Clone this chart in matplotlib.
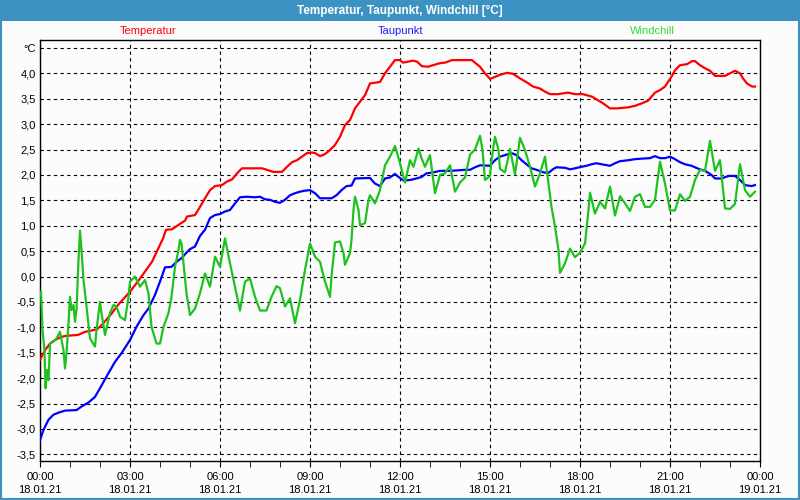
import numpy as np
import pandas as pd
import matplotlib
matplotlib.use("Agg")
import matplotlib.pyplot as plt
import matplotlib.dates as mdates
from matplotlib.patches import Rectangle

plt.rcParams['font.family'] = ['Liberation Sans', 'DejaVu Sans']

day = pd.Timestamp("2021-01-18")

# minutes after midnight, values in °C
temp_min = [0, 10, 20, 30, 40, 50, 76, 90, 114, 124, 144, 156, 180, 200, 224, 246, 252, 264,
            276, 290, 294, 310, 320, 330, 340, 350, 364, 374, 384, 394, 404, 444, 454, 466,
            484, 494, 504, 514, 524, 534, 544, 550, 560, 570, 580, 590, 600, 610, 620, 630,
            640, 650, 660, 680, 690, 700, 710, 720, 726, 736, 746, 754, 764, 776, 786, 800,
            810, 824, 864, 870, 880, 890, 900, 910, 920, 934, 946, 960, 974, 986, 1000, 1010,
            1020, 1036, 1056, 1070, 1086, 1104, 1116, 1126, 1140, 1154, 1176, 1190, 1204,
            1216, 1230, 1240, 1250, 1256, 1264, 1270, 1280, 1294, 1304, 1310, 1320, 1330,
            1340, 1350, 1370, 1380, 1390, 1400, 1406, 1414, 1424, 1430]
temp_val = [-1.64, -1.45, -1.32, -1.25, -1.20, -1.17, -1.15, -1.09, -1.04, -0.95, -0.72, -0.56,
            -0.30, -0.04, 0.29, 0.75, 0.92, 0.93, 1.01, 1.10, 1.18, 1.21, 1.37, 1.54, 1.70,
            1.78, 1.80, 1.87, 1.91, 2.03, 2.13, 2.13, 2.10, 2.06, 2.06, 2.16, 2.25, 2.29, 2.36,
            2.43, 2.44, 2.43, 2.37, 2.41, 2.49, 2.59, 2.75, 2.98, 3.08, 3.31, 3.44, 3.57, 3.80,
            3.83, 4.00, 4.13, 4.26, 4.26, 4.21, 4.23, 4.25, 4.23, 4.14, 4.13, 4.16, 4.20, 4.21,
            4.26, 4.26, 4.21, 4.13, 4.00, 3.89, 3.93, 3.97, 4.01, 3.99, 3.90, 3.82, 3.74, 3.70,
            3.64, 3.59, 3.59, 3.62, 3.59, 3.59, 3.54, 3.47, 3.41, 3.31, 3.31, 3.33, 3.36, 3.41,
            3.46, 3.62, 3.67, 3.74, 3.83, 3.95, 4.06, 4.16, 4.18, 4.24, 4.24, 4.16, 4.10, 4.05,
            3.95, 3.95, 4.00, 4.05, 4.00, 3.90, 3.80, 3.74, 3.74]

dew_min = [0, 7, 17, 27, 37, 50, 73, 83, 97, 110, 120, 133, 150, 163, 180, 193, 207, 217, 230,
           240, 250, 263, 273, 283, 293, 300, 310, 320, 330, 340, 350, 360, 370, 380, 390, 400,
           413, 430, 440, 450, 460, 470, 480, 490, 500, 510, 520, 530, 540, 550, 560, 583, 593,
           603, 613, 623, 630, 660, 670, 680, 690, 700, 710, 717, 727, 740, 753, 763, 773, 787,
           800, 820, 850, 860, 870, 880, 900, 910, 920, 930, 943, 953, 963, 973, 983, 993, 1007,
           1017, 1027, 1033, 1050, 1060, 1070, 1083, 1093, 1103, 1113, 1123, 1140, 1150, 1160,
           1177, 1190, 1203, 1220, 1230, 1240, 1250, 1260, 1270, 1280, 1290, 1303, 1317, 1330,
           1343, 1350, 1363, 1377, 1390, 1400, 1410, 1423, 1430]
dew_val = [-3.22, -3.02, -2.82, -2.72, -2.68, -2.64, -2.63, -2.56, -2.48, -2.37, -2.20, -1.97,
           -1.68, -1.51, -1.25, -0.99, -0.76, -0.63, -0.36, -0.10, 0.18, 0.19, 0.29, 0.36, 0.47,
           0.54, 0.59, 0.80, 0.92, 1.15, 1.21, 1.23, 1.28, 1.31, 1.44, 1.56, 1.57, 1.56, 1.57,
           1.52, 1.51, 1.47, 1.45, 1.51, 1.60, 1.64, 1.67, 1.69, 1.70, 1.64, 1.54, 1.54, 1.60,
           1.70, 1.78, 1.79, 1.93, 1.94, 1.83, 1.78, 1.93, 1.95, 2.02, 1.96, 1.89, 1.90, 1.93,
           1.96, 2.03, 2.05, 2.08, 2.08, 2.10, 2.10, 2.15, 2.19, 2.18, 2.29, 2.36, 2.39, 2.43,
           2.39, 2.29, 2.21, 2.13, 2.10, 2.05, 2.04, 2.12, 2.15, 2.14, 2.11, 2.13, 2.16, 2.18,
           2.21, 2.23, 2.21, 2.18, 2.23, 2.27, 2.29, 2.31, 2.32, 2.33, 2.37, 2.33, 2.33, 2.36,
           2.31, 2.25, 2.21, 2.18, 2.12, 2.08, 2.00, 1.93, 1.93, 1.98, 1.98, 1.90, 1.80, 1.78,
           1.80]

wind_min = [2, 5, 9, 11, 14, 17, 20, 27, 33, 40, 47, 50, 53, 57, 60, 63, 67, 70, 73, 77, 80, 83,
            87, 93, 100, 110, 113, 120, 123, 130, 133, 140, 147, 153, 160, 170, 177, 180, 190,
            200, 210, 217, 223, 233, 240, 247, 257, 263, 270, 277, 280, 283, 287, 293, 300, 310,
            320, 330, 340, 350, 360, 370, 380, 390, 400, 410, 420, 430, 440, 453, 463, 473, 480,
            490, 500, 510, 520, 530, 540, 550, 560, 570, 580, 583, 590, 600, 607, 610, 620, 623,
            627, 630, 637, 640, 650, 657, 660, 670, 680, 690, 700, 710, 720, 730, 740, 747, 757,
            763, 770, 780, 790, 800, 810, 820, 830, 840, 850, 860, 870, 880, 885, 890, 900, 903,
            910, 917, 920, 930, 940, 950, 960, 970, 980, 990, 1000, 1010, 1017, 1023, 1030, 1037,
            1040, 1050, 1060, 1070, 1080, 1090, 1097, 1100, 1110, 1120, 1130, 1140, 1150, 1160,
            1170, 1180, 1190, 1200, 1210, 1220, 1230, 1240, 1250, 1260, 1270, 1280, 1290, 1300,
            1310, 1320, 1330, 1340, 1350, 1360, 1370, 1380, 1390, 1400, 1410, 1420, 1430]
wind_val = [-0.30, -1.05, -1.45, -2.20, -1.84, -2.04, -1.32, -1.28, -1.22, -1.09, -1.45, -1.81,
            -1.51, -0.92, -0.40, -0.66, -0.56, -0.89, -0.66, 0.32, 0.90, 0.52, -0.07, -0.59,
            -1.22, -1.38, -1.05, -0.50, -0.72, -1.15, -1.02, -0.72, -0.56, -0.59, -0.79, -0.86,
            -0.40, -0.10, 0.00, -0.20, -0.07, -0.33, -0.99, -1.32, -1.32, -0.99, -0.72, -0.40,
            0.19, 0.52, 0.72, 0.65, 0.25, -0.33, -0.76, -0.63, -0.33, 0.06, -0.20, 0.39, 0.19,
            0.75, 0.26, -0.20, -0.67, -0.10, -0.04, -0.40, -0.67, -0.67, -0.40, -0.19, -0.23,
            -0.59, -0.43, -0.92, -0.46, 0.13, 0.65, 0.39, 0.29, -0.10, -0.40, 0.00, 0.67, 0.69,
            0.46, 0.23, 0.46, 0.72, 1.31, 1.57, 1.31, 1.01, 1.05, 1.51, 1.60, 1.44, 1.70, 2.19,
            2.36, 2.57, 2.23, 1.85, 2.29, 2.16, 2.52, 2.33, 2.16, 2.39, 1.64, 2.00, 2.03, 2.19,
            1.67, 1.85, 1.95, 2.40, 2.50, 2.77, 2.49, 1.90, 1.98, 2.29, 2.75, 2.49, 2.12, 2.05,
            2.51, 2.01, 2.73, 2.49, 2.16, 1.77, 2.03, 2.36, 1.83, 1.37, 0.98, 0.52, 0.07, 0.26,
            0.55, 0.38, 0.47, 0.65, 1.31, 1.65, 1.24, 1.47, 1.34, 1.77, 1.20, 1.58, 1.44, 1.29,
            1.57, 1.62, 1.37, 1.37, 1.51, 2.26, 1.83, 1.30, 1.30, 1.62, 1.49, 1.57, 1.90, 2.10,
            2.08, 2.67, 2.08, 2.29, 1.34, 1.33, 1.43, 2.21, 1.70, 1.57, 1.67]

series = [("Temperatur", temp_min, temp_val, "#ff0000", "#ff0000", 0.15),
          ("Taupunkt", dew_min, dew_val, "#0000ff", "#1a1aff", 0.50),
          ("Windchill", wind_min, wind_val, "#1ec21e", "#33dd33", 0.85)]

frame = "#3d92c4"

fig = plt.figure(figsize=(8, 5), dpi=100, facecolor="#fcfcfc")
ax = fig.add_axes([0.05, 0.0786, 0.90, 0.8414])
ax.set_facecolor("#fcfcfc")

# title bar and outer frame
fig.patches.append(Rectangle((0, 1 - 21 / 500), 1, 21 / 500, transform=fig.transFigure,
                             facecolor=frame, edgecolor="none", zorder=0))
fig.patches.append(Rectangle((0, 0), 1, 1, transform=fig.transFigure, fill=False,
                             edgecolor=frame, lw=3, zorder=5))
fig.text(0.5, 1 - 10.5 / 500, "Temperatur, Taupunkt, Windchill [°C]", color="white",
         weight="bold", ha="center", va="center", fontsize=8.5)

for name, mins, vals, col, lcol, pos in series:
    t = day + pd.to_timedelta(mins, unit="min")
    ax.plot(t.to_numpy(), vals, color=col, lw=1.6, zorder=3)
    ax.text(pos, 1.022, name, transform=ax.transAxes, ha="center", va="center",
            color=lcol, fontsize=8)

ax.set_xlim(day, day + pd.Timedelta(days=1))
ax.set_ylim(-3.626, 4.656)

yt = np.arange(-3.5, 4.51, 0.5)
ax.set_yticks(yt)
ax.set_yticklabels([("%.1f" % v).replace(".", ",") if v < 4.4 else "°C" for v in yt])

ax.xaxis.set_major_locator(mdates.HourLocator(byhour=range(0, 24, 3)))
ax.xaxis.set_minor_locator(mdates.HourLocator())
ax.xaxis.set_major_formatter(mdates.DateFormatter("%H:%M\n%d.%m.%y"))
for lab in ax.get_xticklabels():
    lab.set_linespacing(1.45)

ax.tick_params(axis="y", length=0, pad=3, labelsize=8)
ax.tick_params(axis="x", which="both", length=4, direction="out", pad=4, labelsize=8)
ax.grid(True, which="major", color="black", linestyle=(0, (3, 3)), lw=0.8)
for s in ax.spines.values():
    s.set_color("black")
    s.set_linewidth(1.0)

fig.savefig("out.png", dpi=100, facecolor=fig.get_facecolor())
